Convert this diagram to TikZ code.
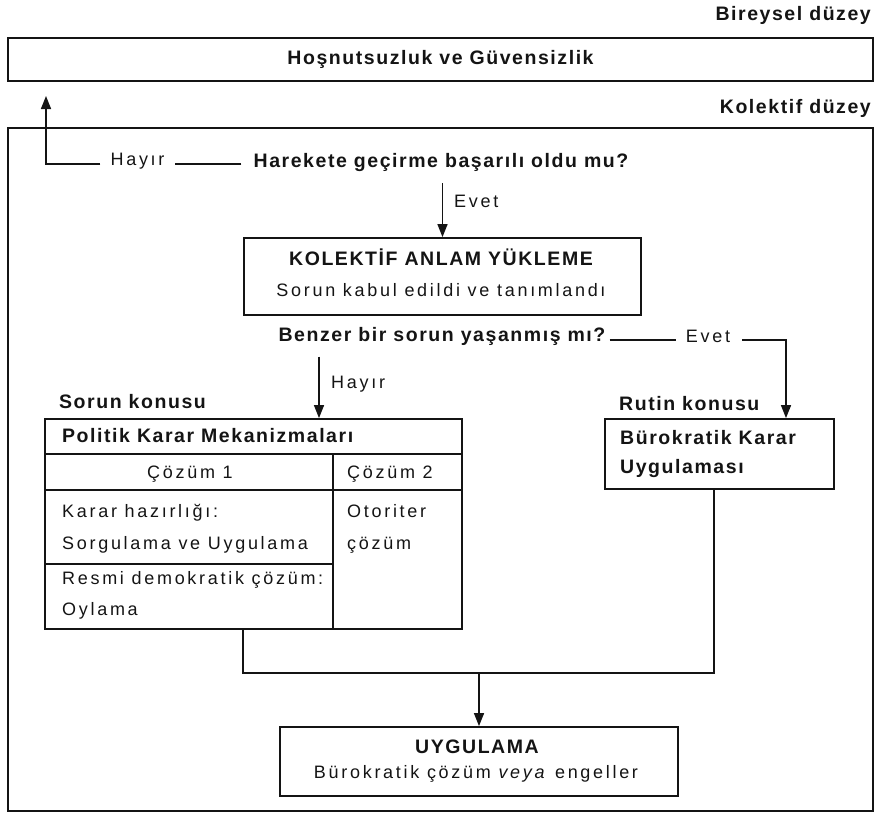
\documentclass[tikz,border=0pt]{standalone}
\usepackage{fontspec}
\setmainfont{Liberation Sans}
\newfontfamily\rfam{Liberation Sans}[LetterSpace=15]
\newfontfamily\bfam{Liberation Sans}[LetterSpace=8]
\usetikzlibrary{arrows.meta}
\definecolor{ink}{RGB}{20,20,20}

\begin{document}
\begin{tikzpicture}[x=1pt,y=-1pt,
  reg/.style={inner sep=0pt, text=ink, font=\rfam\fontsize{18}{21}\selectfont, text height=13pt, text depth=4pt},
  bld/.style={inner sep=0pt, text=ink, font=\bfam\bfseries\fontsize{19.5}{22}\selectfont, text height=14pt, text depth=4pt},
  frame/.style={draw=ink, line width=1.8pt, inner sep=0pt},
  rule/.style={draw=ink, line width=1.8pt},
  conn/.style={draw=ink, line width=1.5pt},
  arr/.style={conn, -{Triangle[length=13pt,width=10pt]}}]
\useasboundingbox (0,0) rectangle (875,816);

% individual level
\node[bld, anchor=east] (bir) at (871,16) {Bireysel düzey};
\node[frame, bld, minimum width=865pt, minimum height=43pt] (hos) at (440.5,59.5) {Hoşnutsuzluk ve Güvensizlik};

% collective level frame
\node[bld, anchor=east] (kol) at (871,108) {Kolektif düzey};
\node[frame, minimum width=865pt, minimum height=683pt] (kframe) at (440.5,469.5) {};

% mobilisation question
\node[bld] (q1) at (441,162) {Harekete geçirme başarılı oldu mu?};
\node[reg] (h1) at (137.5,161) {Hayır};
\coordinate (up) at (46,96);
\draw[conn] ([xshift=-12pt,yshift=-2pt]q1.west) -- ([xshift=10pt,yshift=-3pt]h1.east);
\draw[arr] ([xshift=-10pt,yshift=-3pt]h1.west) -| (up);

% collective meaning
\node[frame, minimum width=397pt, minimum height=77pt] (anl) at (442.5,276.5) {};
\node[bld] (anlT) at (441,260) {KOLEKTİF ANLAM YÜKLEME};
\node[reg] (anlS) at (441,292) {Sorun kabul edildi ve tanımlandı};
\coordinate (q1low) at ([yshift=-12pt]q1.south);
\draw[arr] (anl.north |- q1low) -- (anl.north);
\node[reg, anchor=west] (e1) at (454,203) {Evet};

% similar problem question
\node[bld] (q2) at (442,336) {Benzer bir sorun yaşanmış mı?};
\node[reg] (e2) at (708,338) {Evet};
\coordinate (q2east) at ([xshift=4pt]q2.east);
\draw[conn] (q2east |- e2.west) ++(0,2) -- ([xshift=-10pt,yshift=-2pt]e2.west);

% routine issue
\node[bld, anchor=west] (rk) at (619,405) {Rutin konusu};
\node[frame, minimum width=229pt, minimum height=70pt] (bur) at (719.5,454) {};
\node[bld, anchor=west] (burA) at (620,439) {Bürokratik Karar};
\node[bld, anchor=west] (burB) at (620,468) {Uygulaması};
\draw[arr] ([xshift=12pt,yshift=-2pt]e2.east) -| ([xshift=66.5pt]bur.north);

% problem issue
\node[bld, anchor=west] (sk) at (59,403) {Sorun konusu};
\node[frame, minimum width=417pt, minimum height=210pt] (pol) at (253.5,524) {};
\draw[rule] ([yshift=-36pt]pol.north west) -- ([yshift=-36pt]pol.north east);
\draw[rule] ([yshift=-72pt]pol.north west) -- ([yshift=-72pt]pol.north east);
\draw[rule] ([xshift=289pt,yshift=-36pt]pol.north west) -- ([xshift=289pt]pol.south west);
\draw[rule] ([yshift=66pt]pol.south west) -- ([xshift=289pt,yshift=66pt]pol.south west);
\coordinate (q2low) at ([yshift=-11.5pt]q2.south);
\coordinate (polin) at ([xshift=65.5pt]pol.north);
\draw[arr] (polin |- q2low) -- (polin);
\node[reg, anchor=west] (h2) at (331,384) {Hayır};

\node[bld, anchor=west] (polT) at (62,437) {Politik Karar Mekanizmaları};
\node[reg] (c1) at (190,474) {Çözüm 1};
\node[reg, anchor=west] (c2) at (347,474) {Çözüm 2};
\node[reg, anchor=west] (kh) at (62,513) {Karar hazırlığı:};
\node[reg, anchor=west] (su) at (62,545) {Sorgulama ve Uygulama};
\node[reg, anchor=west] (rd) at (62,580) {Resmi demokratik çözüm:};
\node[reg, anchor=west] (oy) at (62,611) {Oylama};
\node[reg, anchor=west] (ot) at (347,513) {Otoriter};
\node[reg, anchor=west] (oc) at (347,545) {çözüm};

% implementation
\node[frame, minimum width=398pt, minimum height=69pt] (uyg) at (479,761.5) {};
\node[bld] (uT) at (477,748) {UYGULAMA};
\node[reg] (uS) at (476,774) {Bürokratik çözüm \textit{veya} engeller};
\coordinate (jl) at (243,673);
\coordinate (jr) at (714,673);
\draw[conn] (jl |- pol.south) -- (jl) -- (jr) -- (jr |- bur.south);
\draw[arr] (uyg.north |- jl) -- (uyg.north);
\end{tikzpicture}
\end{document}
